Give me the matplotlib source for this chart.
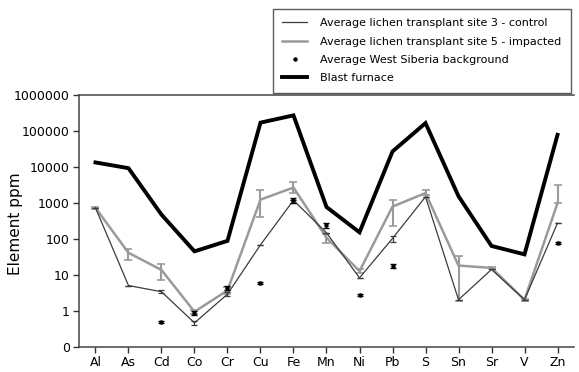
import matplotlib.pyplot as plt
from matplotlib.lines import Line2D
import numpy as np

nan = np.nan

elements = ["Al", "As", "Cd", "Co", "Cr", "Cu", "Fe", "Mn", "Ni", "Pb",
            "S", "Sn", "Sr", "V", "Zn"]

# Average lichen transplant, site 3 (control)
control = [740, 5.2, 3.5, 0.48, 3.0, 70, 1200, 150, 8.5, 105,
           1500, 2.1, 14.5, 2.1, 280]
control_err = [0, 0, 0.3, 0.05, 0.4, 0, 0, 0, 0, 20,
               0, 0, 0, 0, 0]

# Average lichen transplant, site 5 (impacted) with min/max bars
impacted = [740, 42, 14, 0.98, 3.8, 1250, 2700, 110, 13, 800,
            1900, 18.6, 16, 2.1, 1000]
impacted_lo = [690, 27, 7.5, 0.85, 3.0, 420, 1950, 80, 11.5, 230,
               1650, 2.0, 15, 2.0, 1000]
impacted_hi = [790, 52, 20, 1.1, 4.6, 2300, 3800, 140, 15, 1250,
               2250, 35, 17, 2.2, 3200]

# Average West Siberia background
background = [nan, nan, 0.51, 0.9, 4.5, 6.2, 1200, 250, 2.9, 18,
              nan, nan, nan, nan, 80]
background_err = [0, 0, 0.02, 0.12, 0.6, 0.3, 180, 40, 0.2, 2.5,
                  0, 0, 0, 0, 5]

blast_furnace = [13400, 9300, 480, 46, 90, 170000, 270000, 780, 155, 27000,
                 165000, 1550, 65, 38, 78000]

x = np.arange(len(elements))

ctrl_col = "#3c3c3c"
imp_col = "#9a9a9a"

fig = plt.figure(figsize=(5.79, 3.72), dpi=100)
ax = fig.add_axes([0.1364, 0.066, 0.855, 0.679])

imp = np.array(impacted)
yerr_imp = [imp - np.array(impacted_lo), np.array(impacted_hi) - imp]

ax.plot(x, blast_furnace, color="black", lw=2.8, solid_joinstyle="miter", zorder=2)
ax.errorbar(x, impacted, yerr=yerr_imp, color=imp_col, lw=1.8,
            elinewidth=1.5, capsize=3, capthick=1.2, zorder=3)
ax.errorbar(x, control, yerr=control_err, color=ctrl_col, lw=0.9,
            elinewidth=0.9, capsize=2, capthick=0.9, zorder=4)
ax.errorbar(x, background, yerr=background_err, fmt="o", ms=2.2,
            color="black", elinewidth=1.0, capsize=2.5, capthick=1.0, zorder=5)

ax.set_yscale("log")
ax.set_ylim(0.1, 1e6)
ax.set_xlim(-0.5, 14.5)
ax.set_yticks([0.1, 1, 10, 100, 1000, 10000, 100000, 1000000])
ax.set_yticklabels(["0", "1", "10", "100", "1000", "10000", "100000", "1000000"])
ax.minorticks_off()
ax.set_xticks(x)
ax.set_xticklabels(elements)
ax.tick_params(axis="both", labelsize=9, length=4.5, width=1, color="#333333", pad=2)
ax.set_ylabel("Element ppm", fontsize=11)
ax.yaxis.set_label_coords(-0.113, 0.49)

for side in ["left", "bottom", "top"]:
    ax.spines[side].set_color("#444444")
    ax.spines[side].set_linewidth(1.1)
ax.spines["right"].set_visible(False)

handles = [
    Line2D([], [], color=ctrl_col, lw=0.9),
    Line2D([], [], color=imp_col, lw=1.8),
    Line2D([], [], color="black", ls="none", marker="o", ms=2.2),
    Line2D([], [], color="black", lw=2.8),
]
labels = [
    "Average lichen transplant site 3 - control",
    "Average lichen transplant site 5 - impacted",
    "Average West Siberia background",
    "Blast furnace",
]
leg = fig.legend(handles, labels, loc="upper left",
                 bbox_to_anchor=(0.4715, 0.976), borderaxespad=0,
                 fontsize=8, frameon=True, fancybox=False, edgecolor="#333333",
                 handlelength=2.2, handletextpad=1.2, borderpad=0.85,
                 labelspacing=0.75)
leg.get_frame().set_linewidth(1.0)
leg.set_zorder(10)

fig.savefig("out.png", dpi=100)
